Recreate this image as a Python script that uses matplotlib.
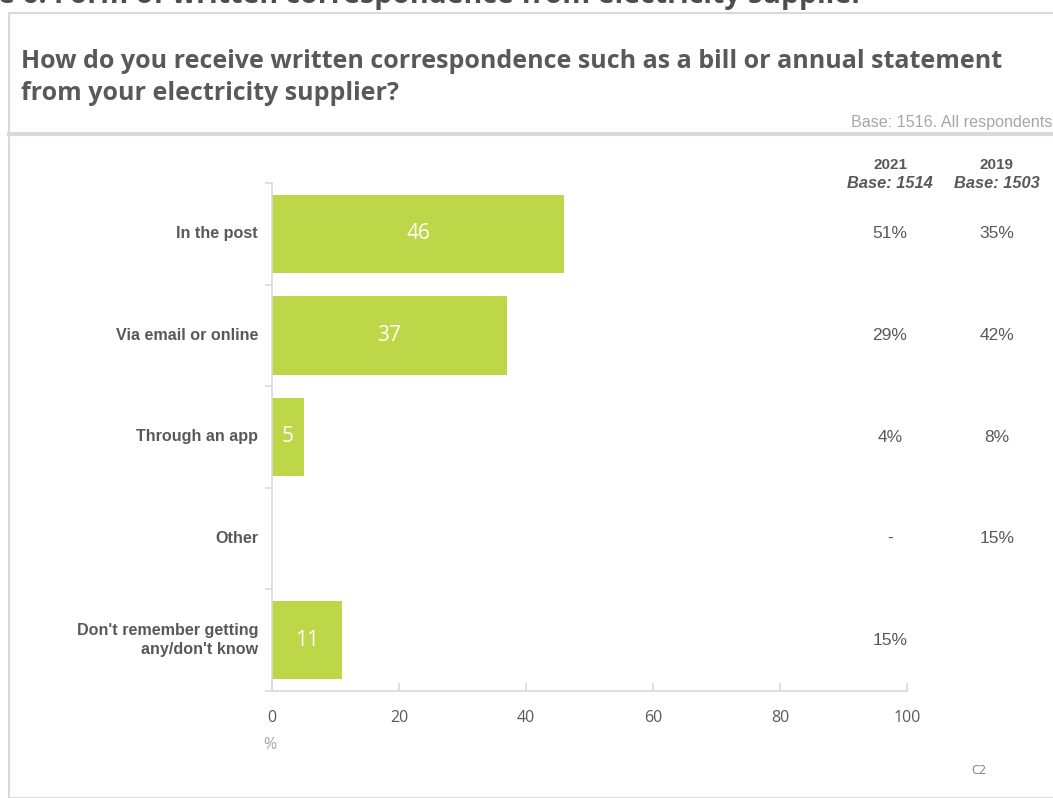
import matplotlib.pyplot as plt
from matplotlib.patches import Rectangle
from matplotlib.lines import Line2D

categories = ["In the post", "Via email or online", "Through an app", "Other",
              "Don't remember getting\nany/don't know"]
values_2021 = [46, 37, 5, None, 11]
col_2021 = ["51%", "29%", "4%", "-", "15%"]
col_2019 = ["35%", "42%", "8%", "15%", ""]
x_ticks = [0, 20, 40, 60, 80, 100]

BAR = "#BDD748"
W, H = 1053, 798
fig = plt.figure(figsize=(W / 100, H / 100), dpi=100)

def fx(px):
    return px / W

def fy(py):
    return 1 - py / H

# frame and separators
fig.add_artist(Rectangle((fx(8.5), fy(798)), fx(1060), fy(12.5) - fy(798),
                         transform=fig.transFigure, fill=False,
                         edgecolor="#d9d9d9", linewidth=1.5))
fig.add_artist(Line2D([fx(9), 1], [fy(133.5), fy(133.5)], transform=fig.transFigure,
                      color="#d9d9d9", linewidth=3))

# heading running off the top edge
fig.text(fx(-2), fy(3), "e 6: Form of written correspondence from electricity supplier",
         fontsize=20.5, fontweight="bold", color="#4d4d4d", family="Open Sans",
         ha="left", va="baseline")

fig.text(fx(21), fy(68), "How do you receive written correspondence such as a bill or annual statement",
         fontsize=18, fontweight="bold", color="#595959", family="Open Sans",
         ha="left", va="baseline")
fig.text(fx(21), fy(100), "from your electricity supplier?",
         fontsize=18, fontweight="bold", color="#595959", family="Open Sans",
         ha="left", va="baseline")
fig.text(fx(1052), fy(122), "Base: 1516. All respondents", fontsize=11.6,
         color="#a6a6a6", family="Liberation Sans", ha="right", va="center")

ax = fig.add_axes([fx(272), fy(691), fx(907) - fx(272), fy(183) - fy(691)])
ypos = list(range(len(categories)))
bar_vals = [v if v is not None else 0 for v in values_2021]
bars = ax.barh(ypos, bar_vals, height=0.77, color=BAR, zorder=2)
for b, v in zip(bars, values_2021):
    if v is None:
        b.set_visible(False)
        continue
    ax.text(v / 2, b.get_y() + b.get_height() / 2, str(v), color="white",
            fontsize=15, family="Open Sans", ha="center", va="center")

ax.set_xlim(0, 100)
ax.set_ylim(len(categories) - 0.5, -0.5)
for s in ["top", "right"]:
    ax.spines[s].set_visible(False)
for s in ["left", "bottom"]:
    ax.spines[s].set_color("#d9d9d9")
    ax.spines[s].set_linewidth(1.2)

ax.set_xticks(x_ticks)
ax.set_xticklabels([str(t) for t in x_ticks])
ax.tick_params(axis="x", direction="in", length=6, color="#d9d9d9", width=1.2,
               labelsize=11.5, labelcolor="#595959", pad=14)
for lbl in ax.get_xticklabels():
    lbl.set_family("Open Sans")

ax.set_yticks([i - 0.5 for i in range(len(categories) + 1)])
ax.set_yticklabels([])
ax.tick_params(axis="y", direction="out", length=5, color="#d9d9d9", width=1.2)
for i, c in enumerate(categories):
    ax.text(-2.2, i, c, ha="right", va="center", fontsize=11.6, fontweight="bold",
            color="#595959", family="Liberation Sans", linespacing=1.3)

# comparison columns to the right of the plot
col_x = {"2021": (890 - 272) / 635, "2019": (997 - 272) / 635}
trans = ax.get_yaxis_transform()
for year, base in [("2021", "Base: 1514"), ("2019", "Base: 1503")]:
    fig.text(fx(272 + col_x[year] * 635), fy(165), year, fontsize=11, fontweight="bold",
             color="#595959", family="Liberation Sans", ha="center", va="center")
    fig.text(fx(272 + col_x[year] * 635), fy(184), base, fontsize=11.8, fontweight="bold",
             style="italic", color="#595959", family="Liberation Sans",
             ha="center", va="center")
for i in ypos:
    ax.text(col_x["2021"], i, col_2021[i], transform=trans, fontsize=12.5,
            color="#595959", family="Liberation Sans", ha="center", va="center")
    ax.text(col_x["2019"], i, col_2019[i], transform=trans, fontsize=12.5,
            color="#595959", family="Liberation Sans", ha="center", va="center")

fig.text(fx(270), fy(745), "%", fontsize=11.5, color="#a6a6a6", family="Open Sans",
         ha="center", va="center")
fig.text(fx(979), fy(770), "C2", fontsize=9, color="#7f7f7f", family="Open Sans",
         ha="center", va="center")

fig.savefig("out.png", dpi=100)
